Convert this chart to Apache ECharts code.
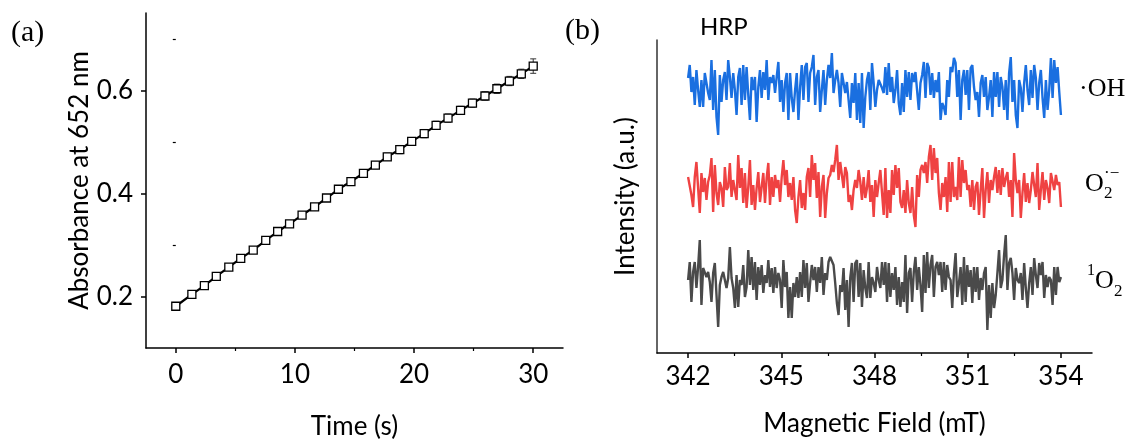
<!DOCTYPE html>
<html>
<head>
<meta charset="utf-8">
<script src="https://cdn.jsdelivr.net/npm/echarts@6/dist/echarts.min.js"></script>
<style>
  html, body { margin: 0; padding: 0; background: #fff; }
  #chart { width: 1125px; height: 445px; }
</style>
</head>
<body>
<div id="chart"></div>
<script>
// (a) TMB absorbance vs time, (b) EPR spectra for HRP
const timeS = [0, 1.35, 2.4, 3.4, 4.45, 5.45, 6.5, 7.55, 8.55, 9.55, 10.6, 11.65, 12.65, 13.65, 14.7,
  15.75, 16.75, 17.75, 18.8, 19.8, 20.85, 21.85, 22.85, 23.9, 24.9, 25.95, 26.95, 28, 29, 30];
const absorbance = [0.181, 0.204, 0.221, 0.239, 0.257, 0.274, 0.290, 0.309, 0.326, 0.341, 0.358, 0.374,
  0.391, 0.408, 0.423, 0.439, 0.455, 0.471, 0.485, 0.501, 0.516, 0.532, 0.546, 0.561, 0.575, 0.589,
  0.603, 0.618, 0.632, 0.647];
const absErr = [0.002, 0.002, 0.003, 0.003, 0.003, 0.003, 0.003, 0.004, 0.004, 0.004, 0.004, 0.004,
  0.005, 0.005, 0.006, 0.006, 0.007, 0.007, 0.008, 0.007, 0.008, 0.008, 0.008, 0.008, 0.008, 0.008,
  0.009, 0.009, 0.009, 0.014];

const timeTicks = [0, 10, 20, 30];
const timeMinorTicks = [5, 15, 25];
const absTicks = [0.2, 0.4, 0.6];
const absMinorTicks = [0.3, 0.5, 0.7];

// EPR traces, sampled evenly from fieldStart to fieldEnd (mT), intensity in a.u. (offset per trace)
const fieldStart = 342;
const fieldEnd = 354;
const fieldTicks = [342, 345, 348, 351, 354];
const fieldMinorTicks = [343.5, 346.5, 349.5, 352.5];

const ohSignal = [
  275,288,261,276,248,283,263,246,273,246, 280,281,260,253,293,243,283,236,218,278,
  251,273,281,253,293,276,255,280,263,238, 276,285,248,288,253,286,258,233,276,263,
  276,231,266,283,255,281,263,293,253,276, 270,278,260,276,291,251,273,241,270,280,
  233,280,255,241,263,280,233,266,288,253, 286,290,251,280,286,298,248,276,283,241,
  263,283,248,273,288,275,300,260,273,283, 270,246,280,280,260,271,253,235,270,250,
  280,233,270,230,280,225,256,273,281,243, 290,270,246,263,273,
  273,265,260,286,258,290,261,276,250,263, 283,250,238,270,241,283,256,281,253,280,
  271,281,280,243,270,278,291,255,290,285, 258,280,255,273,261,281,233,250,246,238,
  273,256,286,281,295,290,256,283,233,273, 283,258,283,243,285,288,266,253,261,236,
  270,278,256,276,243,256,273,236,281,256, 281,246,276,266,243,273,233,280,296,251,
  273,238,225,273,265,241,270,288,263,248, 283,255,288,275,243,270,283,255,235,273,
  243,263,295,255,293,270,286,261,238
];
const superoxideSignal = [
  176,176,158,146,176,191,165,140,180,161, 175,153,171,178,195,141,188,160,148,171,
  165,146,186,163,166,190,156,173,171,153, 198,165,185,150,180,145,166,193,148,168,
  143,165,181,151,166,180,150,175,190,148, 176,156,178,165,173,151,176,193,168,183,
  156,170,153,176,143,130,156,173,145,160, 143,176,185,156,198,173,190,155,181,136,
  166,178,135,160,175,178,188,181,193,208, 173,191,190,165,186,180,151,158,143,163,
  173,165,183,171,153,176,155,165,183,151, 168,136,173,156,170,
  183,160,138,185,135,163,140,183,158,188, 165,185,151,145,163,140,173,150,140,166,
  138,126,178,156,183,188,180,191,170,196, 208,173,205,180,195,160,143,170,156,176,
  141,191,151,191,156,166,153,196,156,193, 170,183,163,168,146,173,143,166,171,138,
  163,185,135,163,181,150,173,163,176,186, 160,183,158,185,166,175,181,156,173,136,
  200,173,160,173,135,160,180,151,170,150, 163,181,168,156,190,143,163,181,153,173,
  165,150,180,180,163,178,168,171,146
];
const singletSignal = [
  73,91,51,81,91,65,86,113,48,85, 83,76,81,71,51,80,90,58,26,68,
  76,81,83,65,75,106,75,65,45,78, 46,73,68,88,56,66,103,68,96,63,
  91,53,86,68,88,60,78,70,93,66, 85,60,86,65,80,73,45,93,66,81,
  35,66,35,70,56,76,55,81,56,93, 65,90,51,70,88,73,86,61,86,70,
  96,58,80,73,91,96,98,88,70,50, 38,68,61,85,43,73,26,75,90,51,
  90,93,56,90,46,83,65,55,91,55, 76,70,61,86,73,
  65,91,68,91,51,90,56,80,63,86, 48,76,46,71,51,98,40,80,85,51,
  81,96,63,86,68,41,98,60,101,65, 88,98,56,86,91,78,91,61,91,63,
  88,76,73,45,80,100,56,70,86,48, 96,51,88,66,83,50,86,61,86,53,
  75,63,80,86,23,68,35,70,45,58, 80,103,65,73,98,118,63,90,95,80,
  53,85,73,70,80,53,90,65,45,70, 86,58,95,78,65,90,78,91,55,78,
  66,76,73,48,86,58,86,71,76
];

const sans = 'Lato';
const serif = '"Liberation Serif"';

function fieldPairs(signal) {
  const step = (fieldEnd - fieldStart) / (signal.length - 1);
  return signal.map((v, i) => [fieldStart + i * step, v]);
}

const chart = echarts.init(document.getElementById('chart'), null, { renderer: 'canvas' });

const axisLineBlack = { show: true, onZero: false, lineStyle: { color: '#000', width: 1.5 } };
const tickLabel = { color: '#000', fontFamily: sans, fontSize: 26 };
const titleText = { color: '#000', fontFamily: sans, fontSize: 26 };

chart.setOption({
  animation: false,
  backgroundColor: '#fff',
  grid: [
    { left: 146, top: 13, width: 417, height: 341 },
    { left: 657, top: 40, width: 435, height: 313 }
  ],
  xAxis: [
    {
      gridIndex: 0, type: 'value', min: -2.5, max: 32.5,
      axisLine: axisLineBlack,
      axisTick: { show: true, customValues: timeTicks, length: 5, lineStyle: { color: '#000', width: 1.5 } },
      axisLabel: Object.assign({ customValues: timeTicks, margin: 14 }, tickLabel),
      splitLine: { show: false },
      name: 'Time (s)', nameLocation: 'middle', nameGap: 66,
      nameTextStyle: titleText
    },
    {
      gridIndex: 0, type: 'value', min: -2.5, max: 32.5, position: 'bottom',
      axisLine: { show: false },
      axisTick: { show: true, customValues: timeMinorTicks, length: 3, lineStyle: { color: '#000', width: 1.2 } },
      axisLabel: { show: false },
      splitLine: { show: false }
    },
    {
      gridIndex: 1, type: 'value', min: 341, max: 355,
      axisLine: axisLineBlack,
      axisTick: { show: true, customValues: fieldTicks, length: 5, lineStyle: { color: '#000', width: 1.5 } },
      axisLabel: Object.assign({ customValues: fieldTicks, margin: 11 }, tickLabel),
      splitLine: { show: false },
      name: 'Magnetic Field (mT)', nameLocation: 'middle', nameGap: 58,
      nameTextStyle: titleText
    },
    {
      gridIndex: 1, type: 'value', min: 341, max: 355, position: 'bottom',
      axisLine: { show: false },
      axisTick: { show: true, customValues: fieldMinorTicks, length: 3, lineStyle: { color: '#000', width: 1.2 } },
      axisLabel: { show: false },
      splitLine: { show: false }
    }
  ],
  yAxis: [
    {
      gridIndex: 0, type: 'value', min: 0.1, max: 0.75,
      axisLine: axisLineBlack,
      axisTick: { show: true, customValues: absTicks, length: 5, lineStyle: { color: '#000', width: 1.5 } },
      axisLabel: Object.assign({ customValues: absTicks, margin: 13, formatter: (v) => v.toFixed(1) }, tickLabel),
      splitLine: { show: false },
      name: 'Absorbance at 652 nm', nameLocation: 'middle', nameGap: 52, nameRotate: 90,
      nameTextStyle: titleText
    },
    {
      gridIndex: 0, type: 'value', min: 0.1, max: 0.75, position: 'left',
      axisLine: { show: false },
      axisTick: { show: true, customValues: absMinorTicks, length: 3, lineStyle: { color: '#000', width: 1.2 } },
      axisLabel: { show: false },
      splitLine: { show: false }
    },
    {
      gridIndex: 1, type: 'value', min: 0, max: 313,
      axisLine: { show: true, onZero: false, lineStyle: { color: '#333', width: 1.5 } },
      axisTick: { show: false },
      axisLabel: { show: false },
      splitLine: { show: false },
      name: 'Intensity (a.u.)', nameLocation: 'middle', nameGap: 18, nameRotate: 90,
      nameTextStyle: titleText
    }
  ],
  series: [
    {
      type: 'custom', xAxisIndex: 0, yAxisIndex: 0, z: 2,
      data: timeS.map((t, i) => [t, absorbance[i], absErr[i]]),
      encode: { x: 0, y: 1 },
      renderItem: (params, api) => {
        const t = api.value(0), a = api.value(1), e = api.value(2);
        const hi = api.coord([t, a + e]);
        const lo = api.coord([t, a - e]);
        const w = 3;
        const st = { stroke: '#333', lineWidth: 1 };
        return {
          type: 'group',
          children: [
            { type: 'line', shape: { x1: hi[0], y1: hi[1], x2: lo[0], y2: lo[1] }, style: st },
            { type: 'line', shape: { x1: hi[0] - w, y1: hi[1], x2: hi[0] + w, y2: hi[1] }, style: st },
            { type: 'line', shape: { x1: lo[0] - w, y1: lo[1], x2: lo[0] + w, y2: lo[1] }, style: st }
          ]
        };
      }
    },
    {
      type: 'line', xAxisIndex: 0, yAxisIndex: 0, z: 3,
      data: timeS.map((t, i) => [t, absorbance[i]]),
      symbol: 'rect', symbolSize: 8, showSymbol: true,
      lineStyle: { color: '#000', width: 2.2 },
      itemStyle: { color: '#fff', borderColor: '#000', borderWidth: 1.3 }
    },
    {
      type: 'line', xAxisIndex: 2, yAxisIndex: 2, showSymbol: false,
      data: fieldPairs(ohSignal), lineStyle: { color: '#1a6fe0', width: 2.4 }
    },
    {
      type: 'line', xAxisIndex: 2, yAxisIndex: 2, showSymbol: false,
      data: fieldPairs(superoxideSignal), lineStyle: { color: '#ef4242', width: 2.4 }
    },
    {
      type: 'line', xAxisIndex: 2, yAxisIndex: 2, showSymbol: false,
      data: fieldPairs(singletSignal), lineStyle: { color: '#4a4a4a', width: 2.4 }
    }
  ],
  graphic: [
    { type: 'text', left: 11, top: 18, style: { text: '(a)', font: '30px ' + serif, fill: '#000' } },
    { type: 'text', left: 565, top: 16, style: { text: '(b)', font: '30px ' + serif, fill: '#000' } },
    { type: 'text', left: 700, top: 15, style: { text: 'HRP', font: '24px ' + sans, fill: '#000' } },
    { type: 'text', left: 1079, top: 76, style: { text: '\u00B7OH', font: '26px ' + serif, fill: '#000' } },
    { type: 'text', left: 1085, top: 171, style: { text: 'O', font: '26px ' + serif, fill: '#000' } },
    { type: 'text', left: 1104, top: 185, style: { text: '2', font: '17px ' + serif, fill: '#000' } },
    { type: 'text', left: 1104, top: 165, style: { text: '\u00B7\u2212', font: '17px ' + serif, fill: '#000' } },
    { type: 'text', left: 1087, top: 263, style: { text: '1', font: '16px ' + serif, fill: '#000' } },
    { type: 'text', left: 1095, top: 268, style: { text: 'O', font: '26px ' + serif, fill: '#000' } },
    { type: 'text', left: 1114, top: 283, style: { text: '2', font: '17px ' + serif, fill: '#000' } }
  ]
});
</script>
</body>
</html>
